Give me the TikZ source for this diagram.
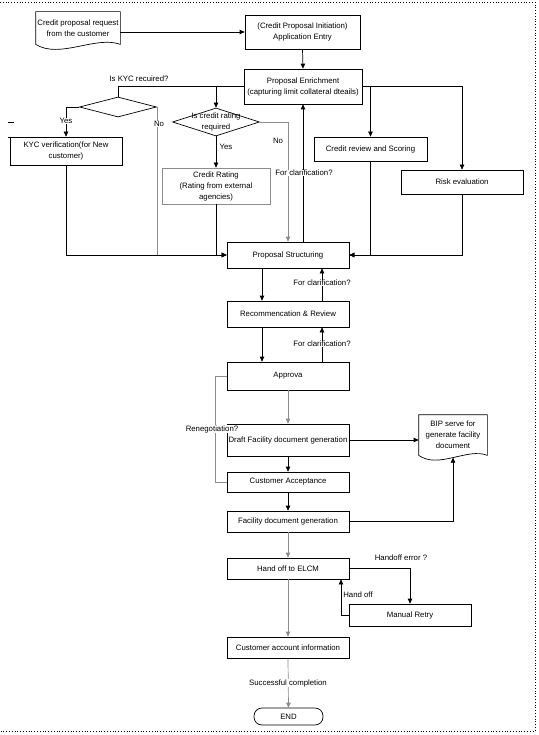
\documentclass[tikz,border=0pt]{standalone}
\usepackage{fontspec}
\setmainfont{Liberation Sans}
\usetikzlibrary{arrows.meta,shapes.geometric,calc}

\begin{document}
\begin{tikzpicture}[x=1pt, y=-1pt, line width=0.7pt,
  every node/.style={font=\fontsize{7.8}{11}\selectfont, align=center, inner sep=1pt},
  box/.style={draw, minimum width=122pt},
  dec/.style={diamond, draw, inner sep=0pt},
  faint/.style={draw=black!45},
  lbl/.style={fill=white, inner sep=0.5pt},
  arr/.style={-{Triangle[length=5pt,width=4.5pt]}}]
  \useasboundingbox (0,0) rectangle (538,735);
  \draw[dotted, line width=0.8pt] (0,2) -- (535,2) -- (535,731) -- (0,731);

  \node[minimum width=84pt, minimum height=32pt] (req) at (78,28) {Credit proposal request\\from the customer};
  \draw (req.north west) -- (req.north east) -- (req.south east)
    .. controls +(-25,-9) and +(24,15) .. (req.south west) -- cycle;
  \node[box, minimum width=115pt, minimum height=34pt] (init) at (302.5,32) {(Credit Proposal Initiation)\\Application Entry};
  \node[box, minimum width=118pt, minimum height=35pt] (enr) at (303,86.5) {Proposal Enrichment\\(capturing limit collateral dteails)};
  \node[dec, minimum width=77pt, minimum height=20pt] (kycq) at (118,107) {};
  \node[dec, minimum width=87pt, minimum height=28pt,
    label={[inner sep=0pt]center:Is credit rating\\required}] (crq) at (216,122) {};
  \node[box, minimum width=112pt, minimum height=28pt] (kyc) at (66,151) {KYC verification(for New\\customer)};
  \node[box, faint, minimum width=108pt, minimum height=36pt] (rating) at (216,186) {Credit Rating\\(Rating from external\\agencies)};
  \node[box, minimum width=113pt, minimum height=24pt] (review) at (370.5,149) {Credit review and Scoring};
  \node[box, minimum height=24pt] (risk) at (462,182) {Risk evaluation};
  \node[box, minimum height=26pt] (struct) at (288,255) {Proposal Structuring};
  \node[box, minimum height=26pt] (recom) at (288,314) {Recommencation \& Review};
  \node[box, minimum height=28pt] (appr) at (288,376) {Approva};
  \node[box, minimum height=32pt] (draft) at (288,440) {Draft Facility document generation};
  \node[box, minimum height=20pt] (accept) at (288,482) {Customer Acceptance};
  \node[box, minimum height=21pt] (facgen) at (288,521.5) {Facility document generation};
  \node[minimum width=68pt, minimum height=40pt] (bip) at (453,435) {BIP serve for\\generate facility\\document};
  \draw (bip.north west) -- (bip.north east) -- (bip.south east)
    .. controls +(-20,-8) and +(20,14) .. (bip.south west) -- cycle;
  \coordinate (bipwave) at ($(bip.south)+(0,2.3)$);
  \node[box, minimum height=21pt] (elcm) at (288,568.5) {Hand off to ELCM};
  \node[box, minimum height=22pt] (retry) at (410,615) {Manual Retry};
  \node[box, minimum height=21pt] (cai) at (288,647.5) {Customer account information};
  \node[draw, rounded corners=8pt, minimum width=69pt, minimum height=17pt] (stop) at (288.5,716.5) {END};

  \draw[arr] (req.east |- init.west) -- (init.west);
  \draw[arr] (init.south) -- (enr.north);
  \draw (enr.west) -| (kycq.north);
  \draw[arr] (crq.north |- enr.west) -- (crq.north);
  \draw[arr] (kycq.west) -| (kyc.north);
  \draw[arr, faint] (kycq.east) |- (struct.west);
  \draw[arr] (kyc.south) |- (struct.west);
  \draw[arr] (rating.south) |- (struct.west);
  \draw[arr] (crq.south) -- (rating.north);
  \draw[arr, faint] (crq.east) -| (struct.north);
  \draw[arr] (enr.south |- struct.north) -- (enr.south);
  \draw[arr] (enr.east) -| (review.north);
  \draw[arr] (enr.east) -| (risk.north);
  \draw[arr] (review.south) |- (struct.east);
  \draw[arr] (risk.south) |- (struct.east);
  \draw[arr] ([xshift=-26pt]struct.south) -- ([xshift=-26pt]recom.north);
  \draw[arr] ([xshift=34pt]recom.north) -- ([xshift=34pt]struct.south);
  \draw[arr] ([xshift=-26pt]recom.south) -- ([xshift=-26pt]appr.north);
  \draw[arr] ([xshift=34pt]appr.north) -- ([xshift=34pt]recom.south);
  \draw[arr, faint] (appr.south) -- (draft.north);
  \draw[arr] (draft.east) -- (draft.east -| bip.west);
  \draw[arr] (draft.south) -- (accept.north);
  \draw[faint] (accept.west) -| ([xshift=-11pt]appr.west) -- (appr.west);
  \draw[arr] (accept.south) -- (facgen.north);
  \draw[arr] (facgen.east) -| (bipwave);
  \draw[arr, faint] (facgen.south) -- (elcm.north);
  \draw[arr] (elcm.east) -| (retry.north);
  \draw[arr] (retry.west) -| ([xshift=53pt]elcm.south);
  \draw[arr, faint] (elcm.south) -- (cai.north);
  \draw[arr, faint] (cai.south) -- (stop.north);
  \draw (8,122) -- (14,122);
  \draw (8,137) -- (10,137);

  \node (kycask) at (139,79) {Is KYC recuired?};
  \node[lbl] (kycyes) at (66,121) {Yes};
  \node[lbl] (kycno) at (159,124) {No};
  \node (crqyes) at (226,147) {Yes};
  \node (crqno) at (278,141) {No};
  \node[lbl] (clarA) at (304,173) {For clarification?};
  \node[lbl] (clarB) at (322,283) {For clarification?};
  \node[lbl] (clarC) at (322,344) {For clarification?};
  \node[lbl] (reneg) at (212,429) {Renegotiation?};
  \node (herr) at (401,558) {Handoff error ?};
  \node (hoff) at (358,595) {Hand off};
  \node[lbl] (succ) at (288,683) {Successful completion};
\end{tikzpicture}
\end{document}
